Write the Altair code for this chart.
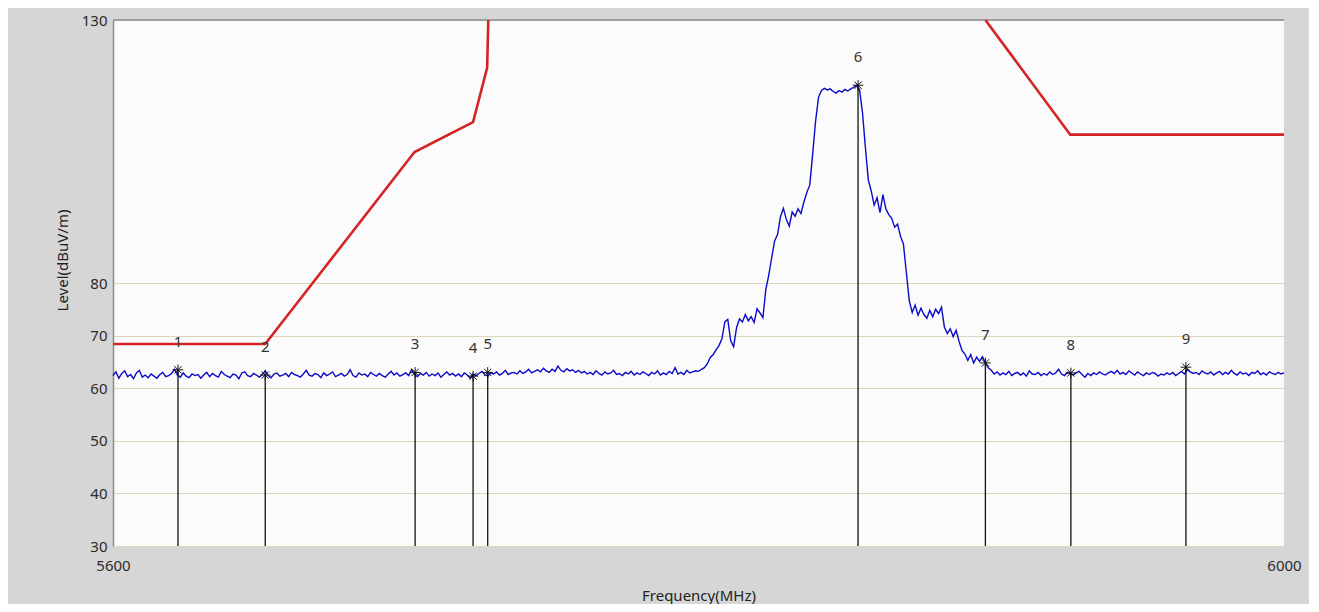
import altair as alt
import pandas as pd

# ---- trace (1 MHz steps, 5600..6000) ----
trace_start = 5600
seg_a = [62.4, 63.1, 61.9, 62.8, 63.3, 62.2, 62.6, 61.8, 62.9, 63.4,
         62.1, 62.5, 62.0, 62.7, 62.3, 61.9, 62.6, 63.0, 62.2, 62.4,
         62.8, 63.6, 62.5, 62.1, 62.9, 62.3, 62.0, 62.7, 62.4, 62.6,
         61.9, 62.5, 63.0, 62.2, 62.8, 62.4, 62.1, 63.2, 62.6, 62.3,
         62.0, 62.7, 62.5, 61.8, 62.9, 63.1, 62.4, 62.2, 62.8, 62.5,
         62.1, 62.6, 63.3, 62.4, 62.0, 62.7, 62.9, 62.3, 62.5, 62.8,
         62.2, 63.0, 62.6, 62.4, 62.1, 62.7, 63.4, 62.5, 62.3, 62.8,
         62.6, 62.0, 62.9, 62.4, 62.7, 63.1, 62.2, 62.5, 62.8, 62.3,
         62.6, 63.5, 62.4, 62.1, 62.9, 62.5, 62.7, 62.2, 63.0, 62.6,
         62.3, 62.8, 62.4, 62.1, 62.7, 63.2, 62.5, 62.9, 62.3, 62.6]
seg_b = [62.9, 62.4, 63.5, 62.6, 62.2, 62.8, 62.5, 63.0, 62.3, 62.7,
         62.4, 62.9, 62.1, 62.6, 63.1, 62.5, 62.8, 62.3, 62.7, 62.2,
         62.9, 62.5, 61.9, 62.7, 62.4, 62.8, 63.2, 62.6, 62.3, 62.9,
         62.7, 63.1, 62.5, 62.8, 63.4, 62.6, 62.9, 63.0, 62.7, 63.3,
         62.8, 63.1, 63.6, 62.9, 63.2, 63.5, 63.1, 63.8, 63.3, 63.0,
         63.6, 63.2, 64.2, 63.4, 63.1, 63.7, 63.3, 63.5, 63.0, 63.4,
         62.9, 63.2, 62.7, 63.0, 62.6, 63.3, 62.8, 62.5, 63.1, 62.7,
         62.9, 63.4, 62.6, 62.8, 62.4, 63.0, 62.7, 63.2, 62.5, 62.9,
         62.6, 63.1, 62.8, 62.4, 63.0, 62.7, 63.3, 62.5, 62.9, 62.6,
         63.2, 62.8, 63.9, 62.7, 63.0, 62.6, 63.4, 62.9, 63.1, 63.3]
seg_c = [63.2, 63.6, 63.9, 64.6, 65.8, 66.4, 67.3, 68.1, 69.4, 72.6,
         73.1, 69.0, 67.9, 71.5, 73.2, 72.6, 74.0, 72.8, 73.6, 72.5,
         75.1, 74.3, 73.4, 78.8, 81.5, 84.8, 88.0, 89.2, 92.6, 94.2,
         92.1, 90.8, 93.5, 92.7, 94.1, 93.2, 95.4, 97.2, 98.6, 104.5,
         110.8, 115.3, 116.6, 117.0, 116.7, 116.9, 116.4, 116.1, 116.6, 116.3,
         116.8, 116.5, 116.9, 117.2, 117.6, 116.8, 112.5, 105.8, 99.6, 97.5,
         94.8, 96.2, 93.4, 96.8, 94.1, 93.0, 92.3, 90.6, 91.2, 88.9,
         87.4, 82.0, 76.6, 74.4, 75.8, 73.9, 75.2, 74.0, 73.3, 74.8,
         73.6, 75.0, 74.2, 75.4, 71.6, 70.4, 71.3, 69.8, 71.0, 68.9,
         67.2, 66.5, 65.3, 66.4, 64.8, 65.9, 65.1, 66.0, 64.8, 63.9]
seg_d = [63.4, 62.7, 63.1, 62.5, 62.9, 62.6, 63.2, 62.4, 62.8, 63.0,
         62.5, 62.9, 62.3, 63.3, 62.7, 62.6, 63.0, 62.4, 62.8, 62.5,
         63.1, 62.6, 62.9, 63.6, 62.7, 62.4, 63.0, 62.8, 62.5, 62.9,
         63.2, 62.6, 62.1, 62.8, 62.4, 62.9, 62.6, 63.1, 62.7, 62.5,
         62.9, 63.2, 62.8, 63.4, 62.7, 63.0, 62.6, 63.3, 62.9, 62.5,
         63.1, 62.7, 62.4, 62.9, 62.6, 63.0, 62.8, 62.3, 62.7, 62.5,
         62.9, 62.6, 63.0, 62.4, 62.8, 63.2, 62.7, 63.5, 63.1, 62.8,
         63.0, 62.6, 63.3, 62.9, 62.7, 63.1, 62.5, 62.9, 63.2, 62.6,
         63.0, 62.7, 63.4, 62.8, 62.5, 63.1, 62.7, 62.9, 62.4, 63.0,
         62.8, 63.3, 62.6, 62.9, 62.5, 63.1, 62.8, 62.6, 63.0, 62.7, 62.9]

# ---- limit line ----
limit_left_freq = [5600, 5652, 5703, 5723, 5727.8, 5728.2]
limit_left_level = [68.4, 68.4, 104.9, 110.6, 120.9, 130]
limit_right_freq = [5898, 5927, 6000]
limit_right_level = [130, 108.2, 108.2]

# ---- markers ----
marker_ids = ["1", "2", "3", "4", "5", "6", "7", "8", "9"]
marker_freq = [5622.2, 5652.0, 5703.2, 5723.0, 5728.0, 5854.5, 5898.0, 5927.2, 5966.5]
marker_level = [63.5, 62.5, 63.0, 62.3, 63.0, 117.6, 64.8, 62.9, 64.0]

y_ticks = [30, 40, 50, 60, 70, 80, 130]
x_ticks = [5600, 6000]

levels = seg_a + seg_b + seg_c + seg_d
trace = pd.DataFrame({"freq": [trace_start + i for i in range(len(levels))], "level": levels})
limit = pd.DataFrame({
    "freq": limit_left_freq + limit_right_freq,
    "level": limit_left_level + limit_right_level,
    "seg": ["L"] * len(limit_left_freq) + ["R"] * len(limit_right_freq),
})
markers = pd.DataFrame({"id": marker_ids, "freq": marker_freq, "level": marker_level})

FONT = "Noto Sans"
xs = alt.Scale(domain=[5600, 6000], nice=False, zero=False)
ys = alt.Scale(domain=[30, 130], nice=False, zero=False)

x_axis = alt.Axis(values=x_ticks, title="Frequency(MHz)", grid=False, ticks=False, domain=False,
                  labelFlush=False, labelOverlap=False, labelPadding=12, labelFontSize=15,
                  labelColor="#2A2A2A", labelFont=FONT, titleFont=FONT, titleFontSize=15,
                  titleFontWeight="normal", titleColor="#222222", titleY=49, titleBaseline="middle",
                  format="d")
y_axis = alt.Axis(values=y_ticks, title="Level(dBuV/m)", grid=True, gridColor="#DDD6BC",
                  gridWidth=1, ticks=False, domain=True, domainColor="#8C8C8C", domainWidth=1.5,
                  labelFlush=False, labelOverlap=False, labelPadding=6, labelFontSize=15,
                  labelColor="#2A2A2A", labelFont=FONT, titleFont=FONT, titleFontSize=15,
                  titleFontWeight="normal", titleColor="#222222", titleX=-51, titleY=240,
                  titleBaseline="middle", titleAngle=270)

top_rule = alt.Chart(pd.DataFrame({"v": [130]})).mark_rule(color="#8C8C8C", strokeWidth=1.5).encode(
    y=alt.Y("v:Q", scale=ys, axis=y_axis)
)

limit_line = alt.Chart(limit).mark_line(color="#D42424", strokeWidth=2.6).encode(
    x=alt.X("freq:Q", scale=xs, axis=x_axis),
    y=alt.Y("level:Q", scale=ys),
    detail="seg:N",
)

trace_line = alt.Chart(trace).mark_line(color="#0A0AC8", strokeWidth=1.4).encode(
    x=alt.X("freq:Q", scale=xs),
    y=alt.Y("level:Q", scale=ys),
)

marker_rules = alt.Chart(markers).mark_rule(color="#111111", strokeWidth=1.3).encode(
    x=alt.X("freq:Q", scale=xs),
    y=alt.Y("level:Q", scale=ys),
    y2=alt.datum(30),
)

star_path = "M-1,0L1,0M0,-1L0,1M-0.7,-0.7L0.7,0.7M-0.7,0.7L0.7,-0.7"
marker_stars = alt.Chart(markers).mark_point(shape=star_path, size=110, filled=False,
                                             color="#111111", strokeWidth=1, opacity=1).encode(
    x=alt.X("freq:Q", scale=xs),
    y=alt.Y("level:Q", scale=ys),
)

marker_labels = alt.Chart(markers).mark_text(dy=-28, fontSize=15, font=FONT, color="#333333",
                                             align="center", baseline="middle").encode(
    x=alt.X("freq:Q", scale=xs),
    y=alt.Y("level:Q", scale=ys),
    text="id:N",
)

chart = alt.layer(top_rule, limit_line, trace_line, marker_rules, marker_stars, marker_labels).properties(
    width=1171, height=526,
    background="#D6D6D6",
    padding={"left": 105, "top": 12, "right": 25, "bottom": 58},
    autosize=alt.AutoSizeParams(type="none"),
).configure_view(fill="#FBFBFB", stroke=None)

chart.save("out.html", embed_options={"renderer": "svg", "actions": False})
